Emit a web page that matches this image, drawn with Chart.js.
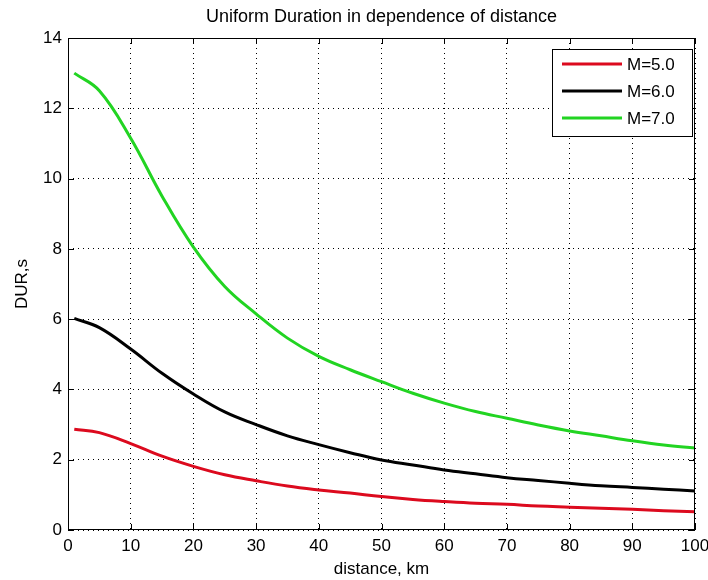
<!DOCTYPE html>
<html>
<head>
<meta charset="utf-8">
<script src="https://cdn.jsdelivr.net/npm/chart.js@4"></script>
<style>
  html, body { margin: 0; padding: 0; background: #fff; }
  #wrap { width: 708px; height: 580px; }
</style>
</head>
<body>
<div id="wrap"><canvas id="durChart" width="708" height="580"></canvas></div>
<script>
// distance, km
const distance = [1, 5, 10, 15, 20, 25, 30, 35, 40, 45, 50, 55, 60, 65, 70, 75, 80, 85, 90, 95, 100];
// DUR,s for each magnitude
const durM5 = [2.87, 2.77, 2.46, 2.10, 1.81, 1.57, 1.40, 1.25, 1.14, 1.05, 0.95, 0.87, 0.81, 0.76, 0.73, 0.68, 0.65, 0.62, 0.59, 0.55, 0.52];
const durM6 = [6.02, 5.76, 5.15, 4.46, 3.87, 3.36, 3.00, 2.68, 2.43, 2.20, 1.99, 1.85, 1.71, 1.60, 1.49, 1.41, 1.33, 1.26, 1.21, 1.16, 1.11];
const durM7 = [13.0, 12.5, 11.15, 9.5, 8.05, 6.93, 6.15, 5.46, 4.94, 4.56, 4.22, 3.89, 3.61, 3.37, 3.18, 2.99, 2.82, 2.68, 2.54, 2.42, 2.33];
const seriesLabels = ['M=5.0', 'M=6.0', 'M=7.0'];
const seriesColors = ['#dc0a1e', '#000000', '#22d422'];

const FONT = 'Arial, "Liberation Sans", sans-serif';

function toPoints(ys) {
    return distance.map((d, i) => ({ x: d, y: ys[i] }));
}

// matlab-style box with inward tick marks
const boxTicks = {
    id: 'boxTicks',
    afterDraw(chart) {
        const { ctx, chartArea: a, scales: { x, y } } = chart;
        ctx.save();
        ctx.strokeStyle = '#000';
        ctx.lineWidth = 1;
        ctx.strokeRect(a.left + 0.5, a.top + 0.5, a.right - a.left - 1, a.bottom - a.top - 1);
        ctx.beginPath();
        x.ticks.forEach(t => {
            const px = Math.round(x.getPixelForValue(t.value)) + 0.5;
            ctx.moveTo(px, a.bottom); ctx.lineTo(px, a.bottom - 6);
            ctx.moveTo(px, a.top); ctx.lineTo(px, a.top + 6);
        });
        y.ticks.forEach(t => {
            const py = Math.round(y.getPixelForValue(t.value)) + 0.5;
            ctx.moveTo(a.left, py); ctx.lineTo(a.left + 6, py);
            ctx.moveTo(a.right, py); ctx.lineTo(a.right - 6, py);
        });
        ctx.stroke();
        ctx.restore();
    }
};

// legend box in the upper right corner
const boxLegend = {
    id: 'boxLegend',
    afterDraw(chart) {
        const { ctx, chartArea: a } = chart;
        const bx = a.right - 143, by = a.top + 11, bw = 140, bh = 87;
        ctx.save();
        ctx.fillStyle = '#fff';
        ctx.fillRect(bx, by, bw, bh);
        ctx.strokeStyle = '#000';
        ctx.lineWidth = 1;
        ctx.strokeRect(bx + 0.5, by + 0.5, bw, bh);
        ctx.font = '17px ' + FONT;
        ctx.textBaseline = 'middle';
        chart.data.datasets.forEach((ds, i) => {
            const ly = by + 15 + i * 27;
            ctx.strokeStyle = ds.borderColor;
            ctx.lineWidth = 3;
            ctx.beginPath();
            ctx.moveTo(bx + 10, ly); ctx.lineTo(bx + 70, ly);
            ctx.stroke();
            ctx.fillStyle = '#000';
            ctx.fillText(ds.label, bx + 75, ly + 1);
        });
        ctx.restore();
    }
};

new Chart(document.getElementById('durChart').getContext('2d'), {
    type: 'line',
    data: {
        datasets: [durM5, durM6, durM7].map((ys, i) => ({
            label: seriesLabels[i],
            data: toPoints(ys),
            borderColor: seriesColors[i],
            borderWidth: 3,
            pointRadius: 0,
            tension: 0.4,
            fill: false
        }))
    },
    options: {
        responsive: false,
        animation: false,
        layout: { padding: { right: 13 } },
        plugins: {
            legend: { display: false },
            tooltip: { enabled: false },
            title: {
                display: true,
                fullSize: false,
                text: 'Uniform Duration in dependence of distance',
                color: '#000',
                font: { family: FONT, size: 18, weight: 'normal' },
                padding: { top: 6, bottom: 10.4 }
            }
        },
        scales: {
            x: {
                type: 'linear',
                min: 0, max: 100,
                ticks: { stepSize: 10, color: '#000', padding: 6, font: { family: FONT, size: 17 } },
                grid: { color: '#000', lineWidth: 1, drawTicks: false },
                border: { display: false, dash: [1, 4] },
                title: { display: true, text: 'distance, km', color: '#000', padding: { top: 1, bottom: 0 }, font: { family: FONT, size: 17 } },
                afterFit: s => { s.height = 50; s.paddingLeft = 0; s.paddingRight = 0; }
            },
            y: {
                min: 0, max: 14,
                ticks: { stepSize: 2, color: '#000', padding: 6, font: { family: FONT, size: 17 } },
                grid: { color: '#000', lineWidth: 1, drawTicks: false },
                border: { display: false, dash: [1, 4] },
                title: { display: true, text: 'DUR,s', color: '#000', padding: { top: 12, bottom: 0 }, font: { family: FONT, size: 17 } },
                afterFit: s => { s.width = 68; s.paddingTop = 0; s.paddingBottom = 0; }
            }
        }
    },
    plugins: [boxTicks, boxLegend]
});
</script>
</body>
</html>
